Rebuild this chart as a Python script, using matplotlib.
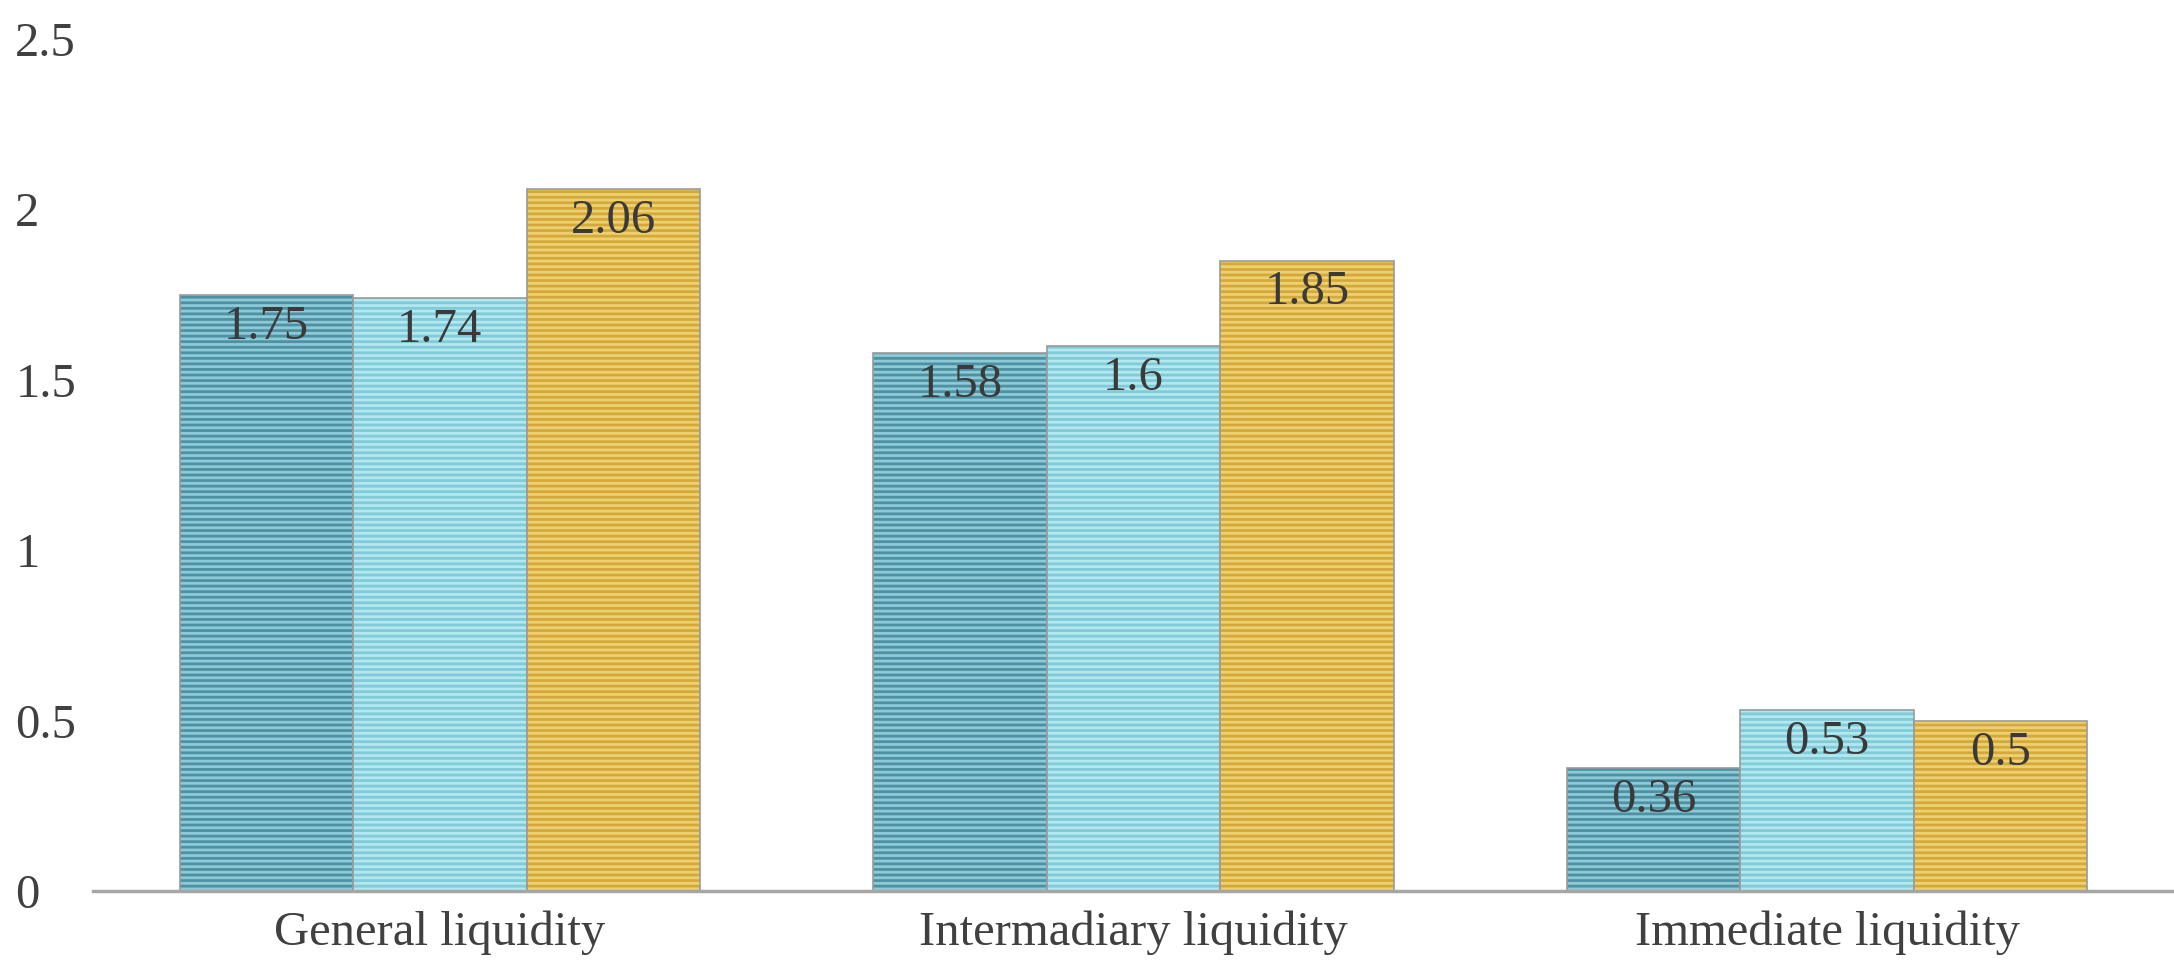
import matplotlib.pyplot as plt
import numpy as np

categories = ["General liquidity", "Intermadiary liquidity", "Immediate liquidity"]
series_a = [1.75, 1.58, 0.36]
series_b = [1.74, 1.6, 0.53]
series_c = [2.06, 1.85, 0.5]
y_ticks = [0, 0.5, 1, 1.5, 2, 2.5]
y_tick_labels = ["0", "0.5", "1", "1.5", "2", "2.5"]

faces = ["#8ccad8", "#b2e8f0", "#efd070"]
stripes = ["#4f90a2", "#82cad8", "#d4a93c"]

plt.rcParams['font.family'] = ['Liberation Serif', 'DejaVu Serif']
plt.rcParams['hatch.linewidth'] = 2.0

fig = plt.figure(figsize=(21.74, 9.61), dpi=100)
ax = fig.add_axes([0.0428, 0.0728, 0.9572, 0.8866])

x = np.arange(len(categories))
w = 0.25
for i, vals in enumerate([series_a, series_b, series_c]):
    pos = x + (i - 1) * w
    ax.bar(pos, vals, w, color=faces[i], edgecolor=stripes[i], hatch='---', linewidth=0)
    ax.bar(pos, vals, w, fill=False, edgecolor="#9a9a9a", linewidth=1.2)
    for px, v in zip(pos, vals):
        ax.annotate(f"{v:g}", (px, v), xytext=(0, -23), textcoords='offset points',
                    ha='center', va='center', fontsize=35, color="#3a3a3a")

ax.set_xlim(-0.5, 2.5)
ax.set_ylim(0, 2.5)
ax.set_xticks(x)
ax.set_xticklabels(categories, fontsize=35, color="#404040")
ax.set_yticks(y_ticks)
ax.set_yticklabels(y_tick_labels, fontsize=35, color="#404040")
for lab in ax.get_yticklabels():
    lab.set_horizontalalignment('left')
ax.tick_params(axis='y', length=0, pad=56)
ax.tick_params(axis='x', length=0, pad=14)

for s in ['top', 'right', 'left']:
    ax.spines[s].set_visible(False)
ax.spines['bottom'].set_color("#a6a6a6")
ax.spines['bottom'].set_linewidth(2.5)

fig.savefig("out.png", dpi=100)
